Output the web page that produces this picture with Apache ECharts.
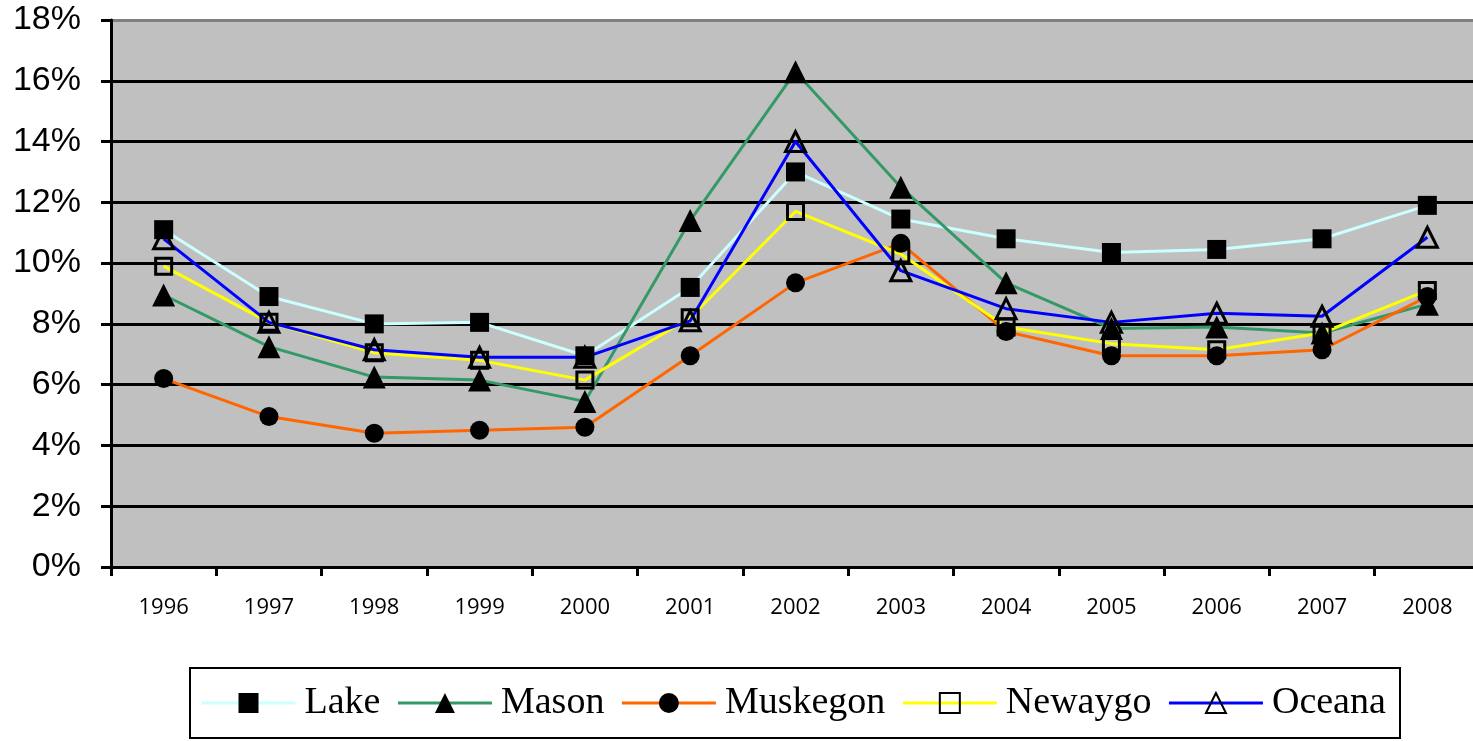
<!DOCTYPE html>
<html>
<head>
<meta charset="utf-8">
<script src="https://cdn.jsdelivr.net/npm/echarts@6/dist/echarts.min.js"></script>
<style>
  html, body { margin: 0; padding: 0; background: #fff; overflow: hidden; }
  /* 圖表右邊超出畫面一點點，跟原圖一樣 */
  #chart-container { width: 1480px; height: 741px; }
</style>
</head>
<body>
<div id="chart-container"></div>
<script>
// years on the x axis
const years = ['1996', '1997', '1998', '1999', '2000', '2001', '2002', '2003', '2004', '2005', '2006', '2007', '2008'];

// unemployment rate, percent
const lake = [11.1, 8.9, 8.0, 8.05, 6.95, 9.2, 13.0, 11.45, 10.8, 10.35, 10.45, 10.8, 11.9];
const mason = [8.95, 7.25, 6.25, 6.15, 5.45, 11.4, 16.3, 12.5, 9.35, 7.85, 7.9, 7.7, 8.65];
const muskegon = [6.2, 4.95, 4.4, 4.5, 4.6, 6.95, 9.35, 10.65, 7.75, 6.95, 6.95, 7.15, 8.9];
const newaygo = [9.9, 8.05, 7.05, 6.8, 6.15, 8.2, 11.7, 10.3, 7.9, 7.35, 7.15, 7.7, 9.1];
const oceana = [10.8, 8.05, 7.15, 6.9, 6.9, 8.1, 14.0, 9.75, 8.5, 8.05, 8.35, 8.25, 10.85];

// y axis ticks
const yMin = 0;
const yMax = 18;
const yStep = 2;

function init() {
  var dom = document.getElementById('chart-container');
  var myChart = echarts.init(dom, null, { renderer: 'canvas' });

  const black = '#000000';
  // 橫線: 最上面那條 (18%) 是灰色
  const gridColors = [];
  for (let v = yMin; v <= yMax; v += yStep) {
    gridColors.push(v === yMax ? '#808080' : black);
  }

  function makeSeries(name, data, lineColor, symbol, size, hollow) {
    return {
      name: name,
      type: 'line',
      data: data,
      symbol: symbol,
      symbolSize: size,
      showAllSymbol: true,
      lineStyle: { color: lineColor, width: 3 },
      itemStyle: hollow
        ? { color: 'rgba(0,0,0,0)', borderColor: black, borderWidth: 3 }
        : { color: black, borderWidth: 0 },
      emphasis: { disabled: true },
      animation: false
    };
  }

  var option = {
    backgroundColor: '#ffffff',
    animation: false,
    grid: {
      left: 111,
      top: 20,
      right: 0,
      bottom: 174,
      show: true,
      backgroundColor: '#C0C0C0',
      borderWidth: 0
    },
    graphic: [
      {
        type: 'rect',
        shape: { x: 190, y: 668, width: 1210, height: 70 },
        style: { fill: '#ffffff', stroke: black, lineWidth: 2 },
        z: 0
      }
    ],
    legend: {
      left: 200,
      top: 684,
      itemWidth: 94,
      itemHeight: 25,
      itemGap: 16,
      padding: 0,
      lineStyle: { width: 3 },
      textStyle: {
        fontFamily: 'Liberation Serif',
        fontSize: 38,
        color: black,
        padding: [0, 0, 0, 4]
      },
      z: 5
    },
    xAxis: {
      type: 'category',
      data: years,
      boundaryGap: true,
      axisLine: { lineStyle: { color: black, width: 3 } },
      axisTick: { show: true, length: 9, lineStyle: { color: black, width: 3 } },
      axisLabel: {
        margin: 30,
        fontFamily: 'Open Sans',
        fontSize: 22,
        color: black
      },
      splitLine: { show: false }
    },
    yAxis: {
      type: 'value',
      min: yMin,
      max: yMax,
      interval: yStep,
      axisLine: { show: true, lineStyle: { color: black, width: 3 } },
      axisTick: { show: true, length: 10, lineStyle: { color: black, width: 3 } },
      axisLabel: {
        margin: 30,
        fontFamily: 'Liberation Sans',
        fontSize: 34,
        color: black,
        formatter: '{value}%'
      },
      splitLine: { show: true, lineStyle: { color: gridColors, width: 3 } }
    },
    series: [
      makeSeries('Lake', lake, '#CCFFFF', 'rect', 19, false),
      makeSeries('Mason', mason, '#339966', 'triangle', 23, false),
      makeSeries('Muskegon', muskegon, '#FF6600', 'circle', 19, false),
      makeSeries('Newaygo', newaygo, '#FFFF00', 'rect', 16, true),
      makeSeries('Oceana', oceana, '#0000FF', 'triangle', 20, true)
    ]
  };

  myChart.setOption(option);
  window.addEventListener('resize', myChart.resize);
}
init();
</script>
</body>
</html>
